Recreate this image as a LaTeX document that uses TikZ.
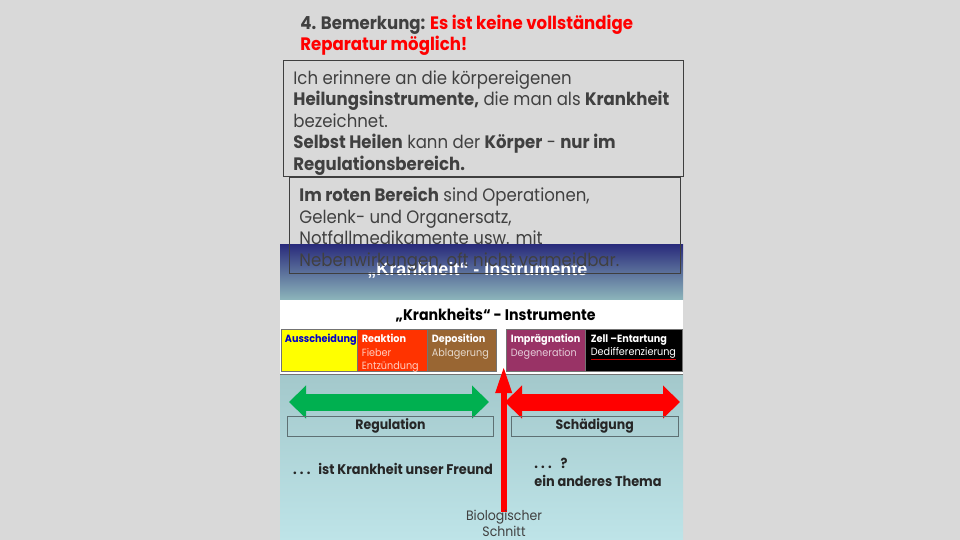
\documentclass[tikz,border=0pt]{standalone}
\usepackage{fontspec}
\setmainfont[FakeStretch=0.92]{Poppins}
\newfontfamily\arialfont{Liberation Sans}
\usetikzlibrary{arrows.meta, positioning}
\usepackage{xcolor}
\definecolor{slidegrey}{HTML}{D9D9D9}
\definecolor{textgrey}{HTML}{404040}
\definecolor{boxline}{HTML}{3F3F3F}
\definecolor{alarmred}{HTML}{FF0000}
\definecolor{bandnavy}{HTML}{2A2C7C}
\definecolor{bandteal}{HTML}{8DB6BB}
\definecolor{areatop}{HTML}{A3C8CB}
\definecolor{areabottom}{HTML}{BEE4E8}
\definecolor{cellyellow}{HTML}{FFFF00}
\definecolor{cellorange}{HTML}{FF3300}
\definecolor{cellbrown}{HTML}{996633}
\definecolor{cellpurple}{HTML}{993366}
\definecolor{cellblue}{HTML}{0000CC}
\definecolor{regreen}{HTML}{00B050}
\definecolor{labelline}{HTML}{5E7073}
\tikzset{
  headtext/.style={anchor=north west, inner sep=0, align=left, text=textgrey,
                   font=\fontsize{9}{10.35}\selectfont\bfseries},
  bodytext/.style={anchor=north west, inner sep=0, align=left, text=textgrey,
                   font=\fontsize{9}{10.75}\selectfont},
  notebox/.style={draw=boxline, line width=0.5pt},
  bandtitle/.style={anchor=base, inner sep=0, text=white,
                    font=\arialfont\fontsize{9}{10}\selectfont\bfseries},
  rowtitle/.style={anchor=base, inner sep=0, text=black,
                   font=\fontsize{7.7}{9}\selectfont\bfseries},
  cellhead/.style={anchor=north west, inner sep=0, align=left,
                   font=\fontsize{5.25}{6.6}\selectfont},
  cellline/.style={draw=black!55, line width=0.4pt},
  flowarrow/.style={line width=8.5pt,
                    {Triangle[width=16pt, length=8.5pt]}-{Triangle[width=16pt, length=8.5pt]}},
  cutarrow/.style={draw=alarmred, line width=3pt, -{Triangle[width=7.5pt, length=13.5pt]}},
  zonebox/.style={rectangle, draw=labelline, line width=0.5pt, minimum height=10.25pt,
                  inner sep=0, font=\fontsize{6.8}{8}\selectfont\bfseries, text=black!85},
  zonetext/.style={anchor=base west, inner sep=0, align=left, text=black!85,
                   font=\fontsize{7}{9}\selectfont\bfseries},
  cutlabel/.style={anchor=base, inner sep=0, align=center, text=textgrey,
                   font=\fontsize{6.8}{8}\selectfont},
}
\newcommand{\spdots}{.\hspace{1.6pt}.\hspace{1.6pt}.}
\begin{document}
\begin{tikzpicture}[x=0.5pt, y=-0.5pt]
  \useasboundingbox (0,0) rectangle (960,540);
  \fill[slidegrey] (0,0) rectangle (960,540);

  % --- Heading and first note ---
  \node[headtext] (heading) at (300,15)
    {4. Bemerkung: \textcolor{alarmred}{Es ist keine vollständige}\\
     \textcolor{alarmred}{Reparatur möglich!}};
  \draw[notebox] (283.5,60.5) rectangle (683.5,176.5);
  \node[bodytext] (healnote) at (293,70)
    {Ich erinnere an die körpereigenen\\
     \textbf{Heilungsinstrumente,} die man als \textbf{Krankheit}\\
     bezeichnet.\\
     \textbf{Selbst Heilen} kann der \textbf{Körper} - \textbf{nur im}\\
     \textbf{Regulationsbereich.}};

  % --- Chart background ---
  \shade[top color=bandnavy, bottom color=bandteal] (280,245) rectangle (683,300);
  \fill[white] (280,300) rectangle (683,374);
  \shade[top color=areatop, bottom color=areabottom] (280,374) rectangle (683,540);
  \draw[cellline] (280,374.5) -- (683,374.5);

  \node[bandtitle] (bandhead) at (477.5,276) {„Krankheit“ - Instrumente};
  \node[rowtitle] (rowhead) at (495.7,321) {„Krankheits“ - Instrumente};

  % --- Cells ---
  \foreach \xa/\xb/\cfill in {281/357.3/cellyellow, 357.3/427.3/cellorange,
                              427.3/496.7/cellbrown, 506.7/585.7/cellpurple,
                              585.7/682/black}
    {\fill[\cfill] (\xa,329) rectangle (\xb,371);
     \draw[cellline] (\xa,329) rectangle (\xb,371);}

  \node[cellhead, text=cellblue] (excretion) at (284.5,334) {\textbf{Ausscheidung}};
  \node[cellhead, text=white!75!cellorange] (reaction) at (361.5,334)
    {\textbf{\color{white}Reaktion}\\Fieber\\Entzündung};
  \node[cellhead, text=white!75!cellbrown] (deposition) at (431.5,334)
    {\textbf{\color{white}Deposition}\\Ablagerung};
  \node[cellhead, text=white!75!cellpurple] (impregnation) at (510.5,334)
    {\textbf{\color{white}Imprägnation}\\Degeneration};
  \node[cellhead, text=white] (neoplasia) at (590.5,334)
    {\textbf{Zell –Entartung}\\Dedifferenzierung};
  \draw[alarmred!80!black, line width=0.5pt]
    ([yshift=-0.3pt]neoplasia.south west) -- ([yshift=-0.3pt]neoplasia.south east);

  % --- Second note (over the chart) ---
  \draw[notebox] (289.5,178) rectangle (680,274);
  \node[bodytext] (surgerynote) at (299,186.7)
    {\textbf{Im roten Bereich} sind Operationen,\\
     Gelenk- und Organersatz,\\
     Notfallmedikamente usw. mit\\
     Nebenwirkungen, oft nicht vermeidbar.};

  % --- Arrows ---
  \coordinate (regleft)  at (289,402);
  \coordinate (regright) at (489,402);
  \coordinate (dmgleft)  at (505,402);
  \coordinate (dmgright) at (680,402);
  \coordinate (cutfoot)  at (503.7,512);
  \coordinate (cuttip)   at (503.7,366);
  \draw[flowarrow, draw=regreen, fill=regreen] (regleft) -- (regright);
  \draw[flowarrow, draw=alarmred, fill=alarmred] (dmgleft) -- (dmgright);
  \draw[cutarrow, fill=alarmred] (cutfoot) -- (cuttip);

  % --- Zone labels ---
  \node[zonebox, minimum width=103pt] (regulation) at (390.5,426.3) {Regulation};
  \node[zonebox, minimum width=83.5pt] (damage) at (594.7,426.3) {Schädigung};
  \node[zonetext] (friend) at (292.7,474.3) {\spdots\hspace{4pt}ist Krankheit unser Freund};
  \node[zonetext] (other) at (534,486) {\spdots\hspace{4.5pt}?\\ein anderes Thema};
  \node[cutlabel] (cut) at (504,536.7) {Biologischer\\Schnitt};
\end{tikzpicture}
\end{document}
